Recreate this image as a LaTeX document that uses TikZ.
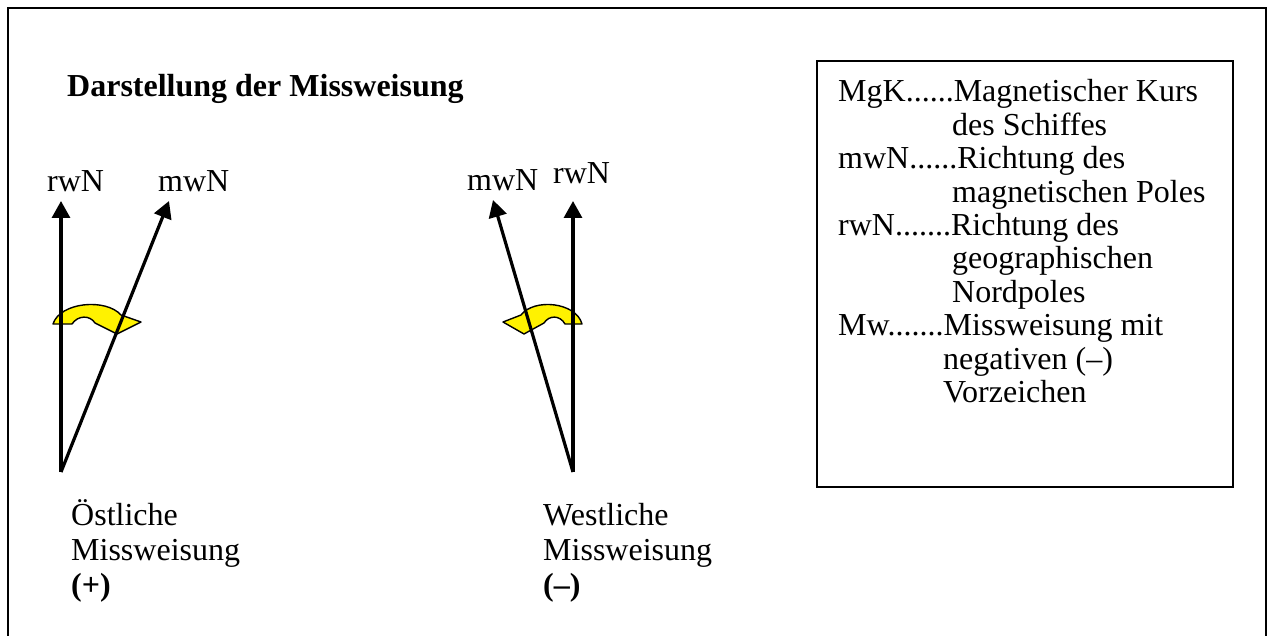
\documentclass[tikz,border=0pt]{standalone}
\usepackage{fontspec}
\setmainfont{Liberation Serif}
\usetikzlibrary{arrows.meta}
\begin{document}
\begin{tikzpicture}[x=1pt,y=-1pt,
  txt/.style={inner sep=0pt,anchor=base west,font=\fontsize{32}{34}\selectfont},
  pointer/.style={line width=3.2pt,-{Triangle[width=18pt,length=17pt]}},
  turn/.style={fill=yellow,draw=black,line width=1.4pt,line join=round}]
\useasboundingbox (0,0) rectangle (1268,636);
% outer frame (open at the bottom edge)
\draw[line width=2.4pt] (8,640) -- (8,8) -- (1266,8) -- (1266,640);

% heading
\node[txt,font=\fontsize{32}{34}\selectfont\bfseries] (title) at (67,97) {Darstellung der Missweisung};

% --- east variation ---
\coordinate (eo) at (61,472);
\coordinate (eR) at (61,201);
\coordinate (eM) at (169,201);
\path[turn] (53,324) .. controls (60,302) and (106,298) .. (121,315) -- (141,322) -- (117,334) -- (95,323)
  .. controls (90,315) and (78,315) .. (72,324) -- cycle;
\draw[pointer] (eo) -- (eR);
\draw[pointer] (eo) -- (eM);
\node[txt] (erwN) at (47,192) {rwN};
\node[txt] (emwN) at (158,192) {mwN};
\node[txt] (e1) at (71,525) {Östliche};
\node[txt] (e2) at (71,560) {Missweisung};
\node[txt] (e3) at (71,595) {\bfseries(+)};

% --- west variation ---
\coordinate (wo) at (573,472);
\coordinate (wR) at (573,201);
\coordinate (wM) at (493,200);
\path[turn] (582,324) .. controls (576,302) and (534,298) .. (521,315) -- (503,322) -- (524,334) -- (544,323)
  .. controls (549,315) and (560,315) .. (565,324) -- cycle;
\draw[pointer] (wo) -- (wR);
\draw[pointer] (wo) -- (wM);
\node[txt] (wmwN) at (467,191) {mwN};
\node[txt] (wrwN) at (553,184) {rwN};
\node[txt] (w1) at (543,525) {Westliche};
\node[txt] (w2) at (543,560) {Missweisung};
\node[txt] (w3) at (543,595) {\bfseries(--)};

% --- legend ---
\draw[line width=2.2pt] (817,61) rectangle (1233,487);
\node[txt] (l1) at (838,102) {MgK......Magnetischer Kurs};
\node[txt] (l2) at (952,135.4) {des Schiffes};
\node[txt] (l3) at (838,168.8) {mwN......Richtung des};
\node[txt] (l4) at (952,202.2) {magnetischen Poles};
\node[txt] (l5) at (838,235.6) {rwN.......Richtung des};
\node[txt] (l6) at (952,269) {geographischen};
\node[txt] (l7) at (952,302.4) {Nordpoles};
\node[txt] (l8) at (838,335.8) {Mw.......Missweisung mit};
\node[txt] (l9) at (943,369.2) {negativen (--)};
\node[txt] (l10) at (943,402.6) {Vorzeichen};
\end{tikzpicture}
\end{document}
